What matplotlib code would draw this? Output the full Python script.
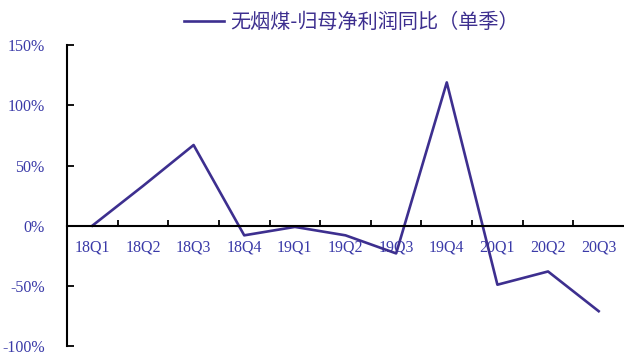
import matplotlib.pyplot as plt

plt.rcParams["font.family"] = ["Liberation Serif", "DejaVu Serif"]

quarters = ["18Q1", "18Q2", "18Q3", "18Q4", "19Q1", "19Q2",
            "19Q3", "19Q4", "20Q1", "20Q2", "20Q3"]
yoy = [0, 33, 67, -8, -1, -8, -23, 119, -49, -38, -71]
series_name = "无烟煤-归母净利润同比（单季）"

line_color = "#3d2f8f"
text_color = "#3a3aa8"

fig = plt.figure(figsize=(6.24, 3.55), dpi=100)
ax = fig.add_axes([67 / 624, 0.025, 1 - 67 / 624, 0.848])

x = list(range(len(quarters)))
ax.plot(x, yoy, color=line_color, lw=1.9, label=series_name)

ax.set_xlim(-0.5, len(quarters) - 0.5)
ax.set_ylim(-100, 150)
yt = [-100, -50, 0, 50, 100, 150]
ax.set_yticks(yt)
ax.set_yticklabels([f"{v}%" for v in yt])

ax.set_xticks(x)
ax.set_xticklabels(quarters)
ax.set_xticks([i + 0.5 for i in x[:-1]], minor=True)
ax.tick_params(axis="x", which="major", length=0, pad=10,
               labelsize=11.5, labelcolor=text_color)
ax.tick_params(axis="x", which="minor", direction="in", length=4, width=1.3)
ax.tick_params(axis="y", direction="in", length=5, width=1.3, pad=16,
               labelsize=11.5, labelcolor=text_color)

ax.spines["top"].set_visible(False)
ax.spines["right"].set_visible(False)
ax.spines["bottom"].set_position(("data", 0))
ax.spines["left"].set_linewidth(1.5)
ax.spines["bottom"].set_linewidth(1.5)
ax.set_facecolor("none")

leg = fig.legend(loc="center", bbox_to_anchor=(0.563, 0.937), frameon=False,
                 handlelength=2.0, handletextpad=0.3,
                 prop={"family": ["Noto Sans CJK SC", "DejaVu Sans"], "size": 14.5})
for t in leg.get_texts():
    t.set_color(line_color)

fig.savefig("out.png", dpi=100)
